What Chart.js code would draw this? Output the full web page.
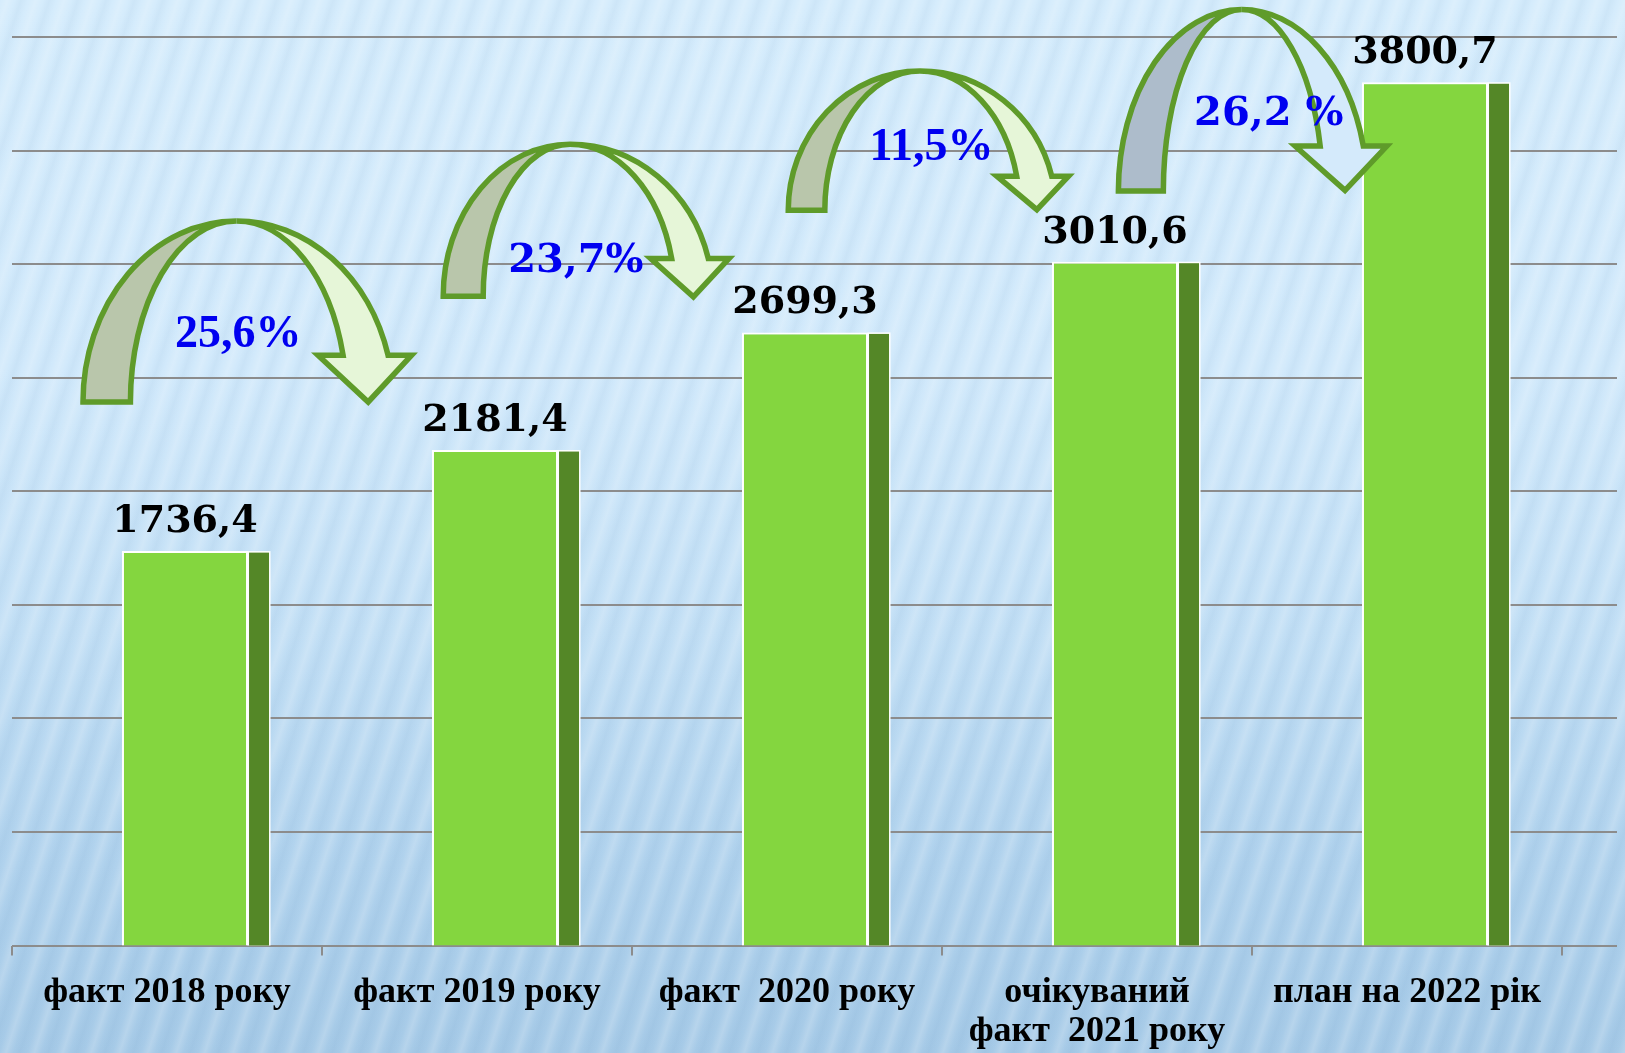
<!DOCTYPE html>
<html><head><meta charset="utf-8">
<script src="https://cdn.jsdelivr.net/npm/chart.js@4.4.1/dist/chart.umd.min.js"></script>
<style>
html,body{margin:0;padding:0;width:1625px;height:1053px;overflow:hidden;}
body{background:
 repeating-linear-gradient(108deg, rgba(255,255,255,0) 0px, rgba(255,255,255,0.18) 7px, rgba(255,255,255,0) 14px, rgba(30,90,150,0.045) 20px, rgba(255,255,255,0) 27px),
 linear-gradient(180deg, #d5ecfc 0%, #d1e9fb 35%, #c2dff5 60%, #b0d2ed 82%, #a6cae7 100%);}
canvas{display:block;}
</style></head>
<body><canvas id="c" width="1625" height="1053"></canvas>
<script>
// ---- data ----
const categories = ['факт 2018 року', 'факт 2019 року', 'факт  2020 року', ['очікуваний', 'факт  2021 року'], 'план на 2022 рік'];
const values = [1736.4, 2181.4, 2699.3, 3010.6, 3800.7];
const growthLabels = ['25,6%', '23,7%', '11,5%', '26,2 %'];
const yMin = 0, yMax = 4000, yStep = 500;

// ---- annotation placement (in data units: x = category index, y = value) ----
const arrowLayout = {
  outerLeft:  [-0.271, 0.891, 2.004, 3.069],
  innerLeft:  [-0.118, 1.020, 2.122, 3.214],
  apexX:      [0.224, 1.300, 2.429, 3.467],
  apexY:      [3190, 3528, 3850, 4121],
  footY:      [2393, 2859, 3237, 3322],
  headY:      [2599, 3025, 3387, 3520],
  innerRight: [0.568, 1.628, 2.741, 3.720],
  outerRight: [0.713, 1.746, 2.854, 3.859],
  wingLeft:   [0.487, 1.560, 2.677, 3.639],
  wingRight:  [0.789, 1.813, 2.908, 3.935],
  tipX:       [0.649, 1.698, 2.806, 3.800],
  tipY:       [2393, 2856, 3240, 3325]
};
const growthPos = { x: [0.230, 1.319, 2.466, 3.554], y: [2636, 2966, 3457, 3611] };

// ---- styles ----
const faceColor = '#84d63f', sideColor = '#548727';
const arrowDark = ['#b9c6ab', '#b9c6ab', '#b9c6ab', '#adbccb'];
const arrowLight = ['#e6f6d8', '#e6f6d8', '#e6f6d8', '#d4eafb'];
const arrowStroke = '#5f9b2a';
const growthFonts = ['bold 46px "Liberation Serif"', 'bold 40px "DejaVu Serif"', 'bold 46px "Liberation Serif"', 'bold 40px "DejaVu Serif"'];
const barShift = 18, sideWidth = 21, gridOverhang = 55, xAxisHeight = 107.5;

const fmt = v => v.toFixed(1).replace('.', ',');

const decor = {
  id: 'decor',
  beforeDatasetsDraw(chart) {
    const ctx = chart.ctx, ys = chart.scales.y, a = chart.chartArea;
    ctx.save();
    ctx.strokeStyle = '#8c8c8c';
    ctx.lineWidth = 2;
    for (let v = yMin; v <= yMax; v += yStep) {
      const y = Math.round(ys.getPixelForValue(v));
      ctx.beginPath();
      ctx.moveTo(a.left, y);
      ctx.lineTo(a.right + gridOverhang, y);
      ctx.stroke();
    }
    ctx.restore();
    ctx.save();
    ctx.translate(barShift, 0);
  },
  afterDatasetsDraw(chart) {
    const ctx = chart.ctx, xs = chart.scales.x, ys = chart.scales.y;
    const bars = chart.getDatasetMeta(0).data;
    bars.forEach(b => {
      const x0 = b.x + b.width / 2;
      const h = b.base - b.y;
      ctx.fillStyle = '#ffffff';
      ctx.fillRect(x0 - 0.5, b.y, sideWidth + 2, h);
      ctx.fillStyle = sideColor;
      ctx.fillRect(x0 + 1, b.y + 1.5, sideWidth - 1, h - 1.5);
    });
    ctx.restore();
    ctx.save();
    ctx.fillStyle = '#000';
    ctx.font = 'bold 38px "DejaVu Serif"';
    ctx.textAlign = 'center';
    ctx.textBaseline = 'alphabetic';
    bars.forEach((b, i) => ctx.fillText(fmt(values[i]), b.x + barShift, b.y - 19));
    ctx.restore();
    const L = arrowLayout;
    const px = v => xs.getPixelForValue(v);
    const py = v => ys.getPixelForValue(v);
    for (let k = 0; k < growthLabels.length; k++) {
      const cx = px(L.apexX[k]), top = py(L.apexY[k]), foot = py(L.footY[k]), head = py(L.headY[k]);
      const ry = foot - top;
      const oL = cx - px(L.outerLeft[k]), iL = cx - px(L.innerLeft[k]);
      const s = (foot - head) / ry, c = Math.sqrt(1 - s * s);
      const oR = (px(L.outerRight[k]) - cx) / c, iR = (px(L.innerRight[k]) - cx) / c;
      const tH = 2 * Math.PI - Math.asin(s);
      ctx.save();
      ctx.lineWidth = 5.5;
      ctx.strokeStyle = arrowStroke;
      ctx.lineJoin = 'miter';
      ctx.beginPath();
      ctx.ellipse(cx, foot, oL, ry, 0, Math.PI, 1.5 * Math.PI);
      ctx.ellipse(cx, foot, iL, ry, 0, 1.5 * Math.PI, Math.PI, true);
      ctx.closePath();
      ctx.fillStyle = arrowDark[k];
      ctx.fill();
      ctx.stroke();
      ctx.beginPath();
      ctx.ellipse(cx, foot, oR, ry, 0, 1.5 * Math.PI, tH);
      ctx.lineTo(px(L.wingRight[k]), head);
      ctx.lineTo(px(L.tipX[k]), py(L.tipY[k]));
      ctx.lineTo(px(L.wingLeft[k]), head);
      ctx.lineTo(cx + iR * c, head);
      ctx.ellipse(cx, foot, iR, ry, 0, tH, 1.5 * Math.PI, true);
      ctx.closePath();
      ctx.fillStyle = arrowLight[k];
      ctx.fill();
      ctx.stroke();
      ctx.restore();
    }
    ctx.save();
    ctx.fillStyle = '#0000f0';
    ctx.textAlign = 'center';
    ctx.textBaseline = 'alphabetic';
    growthLabels.forEach((t, k) => {
      ctx.font = growthFonts[k];
      ctx.fillText(t, px(growthPos.x[k]), py(growthPos.y[k]));
    });
    ctx.restore();
  }
};

new Chart(document.getElementById('c'), {
  type: 'bar',
  data: {
    labels: categories,
    datasets: [{
      data: values,
      backgroundColor: faceColor,
      borderColor: '#ffffff',
      borderWidth: 2,
      barPercentage: 0.4066,
      categoryPercentage: 1,
      clip: false
    }]
  },
  options: {
    responsive: false,
    animation: false,
    devicePixelRatio: 1,
    layout: { padding: { left: 12, right: 63, top: 37, bottom: 0 } },
    plugins: { legend: { display: false }, tooltip: { enabled: false } },
    scales: {
      x: {
        afterFit(scale) { scale.height = xAxisHeight; },
        grid: { display: true, offset: true, drawOnChartArea: false, drawTicks: true, tickLength: 10, color: '#8c8c8c', lineWidth: 2 },
        border: { display: false },
        ticks: { color: '#000', font: { family: 'Liberation Serif', weight: 'bold', size: 36, lineHeight: 1.1 }, padding: 17, maxRotation: 0, autoSkip: false }
      },
      y: { display: false, min: yMin, max: yMax, ticks: { stepSize: yStep } }
    }
  },
  plugins: [decor]
});
</script>
</body></html>
